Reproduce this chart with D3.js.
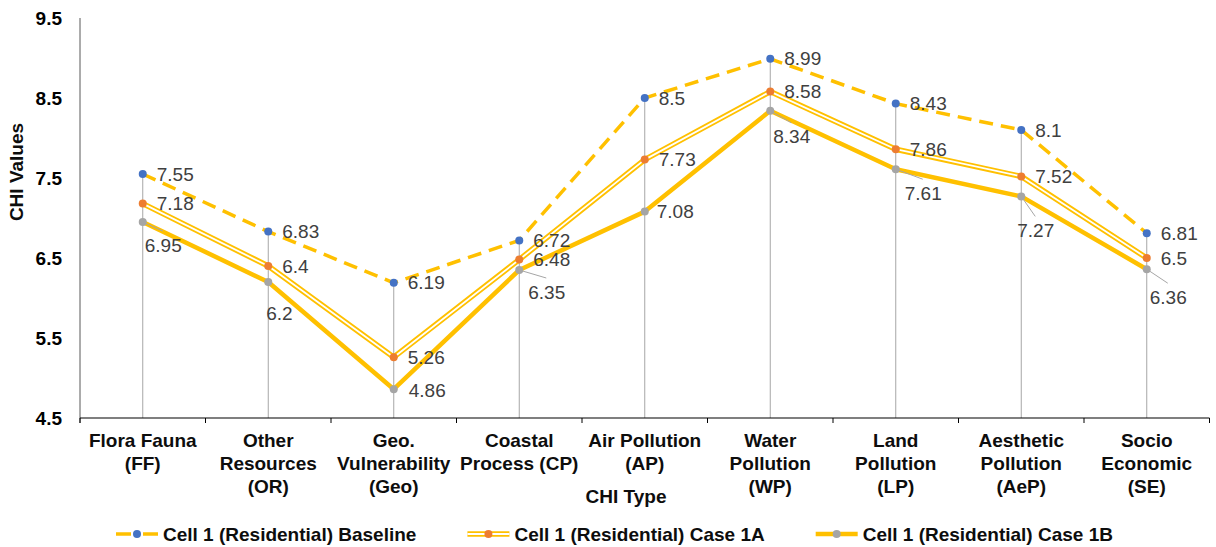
<!DOCTYPE html>
<html>
<head>
<meta charset="utf-8">
<script src="https://cdn.jsdelivr.net/npm/d3@7"></script>
<style>
  body { margin: 0; background: #fff; }
  svg { display: block; }
  text { font-family: Arial, "Liberation Sans", sans-serif; }
</style>
</head>
<body>
<svg id="chart" width="1216" height="547"></svg>
<script>
// CHI values per impact type for residential cell 1
const categoryLines = [
  ["Flora Fauna", "(FF)"],
  ["Other", "Resources", "(OR)"],
  ["Geo.", "Vulnerability", "(Geo)"],
  ["Coastal", "Process (CP)"],
  ["Air Pollution", "(AP)"],
  ["Water", "Pollution", "(WP)"],
  ["Land", "Pollution", "(LP)"],
  ["Aesthetic", "Pollution", "(AeP)"],
  ["Socio", "Economic", "(SE)"]
];
const baseline = [7.55, 6.83, 6.19, 6.72, 8.5, 8.99, 8.43, 8.1, 6.81];
const case1A   = [7.18, 6.4, 5.26, 6.48, 7.73, 8.58, 7.86, 7.52, 6.5];
const case1B   = [6.95, 6.2, 4.86, 6.35, 7.08, 8.34, 7.61, 7.27, 6.36];
const yTicks = [4.5, 5.5, 6.5, 7.5, 8.5, 9.5];
const seriesNames = [
  "Cell 1 (Residential) Baseline",
  "Cell 1 (Residential) Case 1A",
  "Cell 1 (Residential) Case 1B"
];
// label nudges for the Case 1B values: [dx, dy, leader line]
const case1BLabelNudge = [
  [2, 23, true], [-2, 31, false], [15, 1, false], [9, 22, true], [12, 0, false],
  [3, 26, true], [9, 24, true], [-4, 34, true], [3, 28, true]
];

const svg = d3.select("#chart");
const plot = { left: 80, right: 1209.5, top: 18, bottom: 418 };

const x = d3.scaleBand().domain(d3.range(categoryLines.length)).range([plot.left, plot.right]).padding(0);
const cx = i => x(i) + x.bandwidth() / 2;
const y = d3.scaleLinear().domain([4.5, 9.5]).range([plot.bottom, plot.top]);

const YELLOW = "#FFC000";
const LABEL = "#404040";
const FONT = 19;

// drop lines from the highest point of each category to the axis
const tops = categoryLines.map((_, i) => Math.max(baseline[i], case1A[i], case1B[i]));
svg.append("g").selectAll("line").data(tops).join("line")
  .attr("x1", (d, i) => cx(i)).attr("x2", (d, i) => cx(i))
  .attr("y1", d => y(d)).attr("y2", plot.bottom)
  .attr("stroke", "#a6a6a6").attr("stroke-width", 1);

// y axis
const yAxis = svg.append("g").attr("transform", `translate(${plot.left},0)`)
  .call(d3.axisLeft(y).tickValues(yTicks).tickSize(0).tickPadding(18).tickFormat(d3.format(".1f")));
yAxis.select(".domain").attr("stroke", "#595959").attr("d", `M0,${plot.top}V${plot.bottom + 5}`);
yAxis.selectAll("text").attr("font-size", FONT).attr("font-weight", "bold").attr("fill", "#000");

// x axis with ticks at category boundaries
const xAxis = svg.append("g").attr("transform", `translate(0,${plot.bottom})`)
  .call(d3.axisBottom(x).tickSize(0).tickFormat(""));
xAxis.select(".domain").attr("stroke", "#000").attr("stroke-width", 1.2)
  .attr("d", `M${plot.left},0H${plot.right}`);
xAxis.selectAll(".tick").remove();
xAxis.selectAll("line.sep").data(d3.range(categoryLines.length + 1)).join("line")
  .attr("class", "sep")
  .attr("x1", i => plot.left + i * x.step()).attr("x2", i => plot.left + i * x.step())
  .attr("y1", 0).attr("y2", 5).attr("stroke", "#000").attr("stroke-width", 1);

// category labels
const catG = svg.append("g");
categoryLines.forEach((lines, i) => {
  const t = catG.append("text").attr("x", cx(i)).attr("y", 447)
    .attr("text-anchor", "middle").attr("font-size", FONT).attr("font-weight", "bold").attr("fill", "#0d0d0d");
  lines.forEach((ln, k) => t.append("tspan").attr("x", cx(i)).attr("dy", k === 0 ? 0 : 23).text(ln));
});

// axis titles
svg.append("text").attr("x", 626).attr("y", 503).attr("text-anchor", "middle")
  .attr("font-size", FONT).attr("font-weight", "bold").attr("fill", "#0d0d0d").text("CHI Type");
svg.append("text").attr("transform", "translate(23,172) rotate(-90)").attr("text-anchor", "middle")
  .attr("font-size", FONT).attr("font-weight", "bold").attr("fill", "#0d0d0d").text("CHI Values");

const line = d3.line().x((d, i) => cx(i)).y(d => y(d));

// series lines
svg.append("path").datum(baseline).attr("d", line).attr("fill", "none")
  .attr("stroke", YELLOW).attr("stroke-width", 3.5).attr("stroke-dasharray", "14,8");
svg.append("path").datum(case1A).attr("d", line).attr("fill", "none")
  .attr("stroke", YELLOW).attr("stroke-width", 5.5).attr("stroke-linejoin", "round");
svg.append("path").datum(case1A).attr("d", line).attr("fill", "none")
  .attr("stroke", "#fff").attr("stroke-width", 1.8).attr("stroke-linejoin", "round");
svg.append("path").datum(case1B).attr("d", line).attr("fill", "none")
  .attr("stroke", YELLOW).attr("stroke-width", 4.5).attr("stroke-linejoin", "round");

// markers
const markers = [[baseline, "#4472C4"], [case1A, "#ED7D31"], [case1B, "#A5A5A5"]];
markers.forEach(([vals, col]) => {
  svg.append("g").selectAll("circle").data(vals).join("circle")
    .attr("cx", (d, i) => cx(i)).attr("cy", d => y(d)).attr("r", 4).attr("fill", col);
});

// value labels
const labelG = svg.append("g").attr("font-size", FONT).attr("fill", LABEL);
[baseline, case1A].forEach(vals => {
  labelG.append("g").selectAll("text").data(vals).join("text")
    .attr("x", (d, i) => cx(i) + 14).attr("y", d => y(d)).attr("dy", "0.35em")
    .text(d => d);
});
case1B.forEach((d, i) => {
  const [dx, dy, leader] = case1BLabelNudge[i];
  const lx = cx(i) + dx, ly = y(d) + dy;
  if (leader) {
    labelG.append("line").attr("x1", cx(i)).attr("y1", y(d))
      .attr("x2", lx + 18).attr("y2", ly - 14).attr("stroke", "#a6a6a6").attr("stroke-width", 1);
  }
  labelG.append("text").attr("x", lx).attr("y", ly).attr("dy", "0.35em").text(d);
});

// legend
const legend = svg.append("g").attr("transform", "translate(0,534)");
let lx = 116;
const styles = [
  g => g.append("line").attr("x1", 0).attr("x2", 42).attr("stroke", YELLOW).attr("stroke-width", 3.5).attr("stroke-dasharray", "15,12"),
  g => { g.append("line").attr("x1", 0).attr("x2", 42).attr("stroke", YELLOW).attr("stroke-width", 5.5);
         g.append("line").attr("x1", 0).attr("x2", 42).attr("stroke", "#fff").attr("stroke-width", 1.8); },
  g => g.append("line").attr("x1", 0).attr("x2", 42).attr("stroke", YELLOW).attr("stroke-width", 4.5)
];
seriesNames.forEach((name, k) => {
  const g = legend.append("g").attr("transform", `translate(${lx},0)`);
  styles[k](g);
  g.append("circle").attr("cx", 21).attr("cy", 0).attr("r", 4).attr("fill", markers[k][1]);
  const t = g.append("text").attr("x", 47).attr("y", 0).attr("dy", "0.35em")
    .attr("font-size", FONT).attr("font-weight", "bold").attr("fill", "#0d0d0d").text(name);
  lx += 47 + t.node().getComputedTextLength() + 51;
});
</script>
</body>
</html>
